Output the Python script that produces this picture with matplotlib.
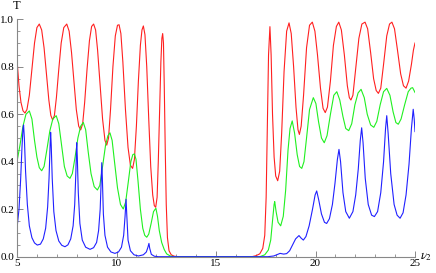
import numpy as np
import matplotlib
matplotlib.use('Agg')
import matplotlib.pyplot as plt
from matplotlib.ticker import MultipleLocator

plt.rcParams['font.family'] = 'Liberation Serif'
plt.rcParams['mathtext.fontset'] = 'stix'

# red curve (x, T)
red_x = [5.00, 5.10, 5.20, 5.30, 5.40, 5.50, 5.62, 5.75, 5.88, 6.00, 6.12, 6.24, 6.36, 6.48, 6.60, 6.70, 6.79,
         6.88, 6.98, 7.10, 7.22, 7.35, 7.50, 7.62, 7.74, 7.86, 7.98, 8.10, 8.20, 8.30, 8.40, 8.52, 8.64, 8.75,
         8.85, 8.95, 9.05, 9.17, 9.30, 9.42, 9.51, 9.60, 9.70, 9.82, 9.94, 10.05, 10.13, 10.22, 10.32, 10.45,
         10.58, 10.70, 10.81, 10.90, 11.00, 11.10, 11.20, 11.28, 11.35, 11.43, 11.52, 11.62, 11.72, 11.82,
         11.90, 11.97, 12.04, 12.10, 12.17, 12.23, 12.28, 12.32, 12.36, 12.40, 12.45, 12.50, 12.56, 12.64,
         12.75, 12.90, 13.10, 16.80, 17.00, 17.20, 17.35, 17.45, 17.52, 17.58, 17.64, 17.71, 17.77, 17.84,
         17.92, 18.00, 18.10, 18.20, 18.30, 18.42, 18.55, 18.67, 18.78, 18.90, 19.02, 19.12, 19.19, 19.28,
         19.40, 19.55, 19.70, 19.84, 19.97, 20.10, 20.25, 20.38, 20.49, 20.60, 20.75, 20.90, 21.05, 21.17,
         21.30, 21.45, 21.60, 21.70, 21.78, 21.88, 22.02, 22.18, 22.33, 22.49, 22.62, 22.77, 22.92, 23.05,
         23.16, 23.28, 23.42, 23.58, 23.72, 23.84, 23.97, 24.12, 24.28, 24.42, 24.55, 24.68, 24.82, 24.92, 25.00]
red_y = [0.83, 0.72, 0.65, 0.615, 0.605, 0.62, 0.68, 0.79, 0.90, 0.965, 0.98, 0.955, 0.88, 0.77, 0.66, 0.595, 0.576,
         0.595, 0.67, 0.79, 0.90, 0.965, 0.98, 0.95, 0.86, 0.74, 0.62, 0.55, 0.534, 0.56, 0.65, 0.79, 0.91, 0.97,
         0.98, 0.955, 0.87, 0.73, 0.58, 0.49, 0.47, 0.50, 0.62, 0.80, 0.93, 0.975, 0.977, 0.94, 0.82, 0.62,
         0.46, 0.385, 0.372, 0.41, 0.55, 0.74, 0.89, 0.955, 0.972, 0.935, 0.80, 0.58, 0.38, 0.26,
         0.215, 0.208, 0.25, 0.40, 0.62, 0.82, 0.92, 0.94, 0.90, 0.72, 0.45, 0.22, 0.08, 0.025,
         0.008, 0.002, 0.0, 0.0, 0.004, 0.012, 0.035, 0.09, 0.25, 0.55, 0.85, 0.969, 0.85, 0.60,
         0.42, 0.34, 0.32, 0.36, 0.52, 0.78, 0.95, 0.985, 0.94, 0.80, 0.63, 0.535, 0.515, 0.55,
         0.68, 0.88, 0.975, 0.988, 0.95, 0.85, 0.71, 0.625, 0.607, 0.63, 0.74, 0.89, 0.97, 0.988,
         0.955, 0.85, 0.72, 0.67, 0.66, 0.68, 0.79, 0.92, 0.98, 0.988, 0.96, 0.86, 0.75, 0.70,
         0.688, 0.71, 0.81, 0.93, 0.98, 0.988, 0.96, 0.87, 0.77, 0.72, 0.71, 0.74, 0.81, 0.87, 0.90]

# green curve
green_x = [5.00, 5.15, 5.30, 5.45, 5.62, 5.75, 5.88, 6.00, 6.12, 6.24, 6.36, 6.50, 6.65, 6.80, 6.97, 7.10, 7.24,
           7.38, 7.52, 7.66, 7.78, 7.92, 8.06, 8.20, 8.33, 8.45, 8.58, 8.72, 8.88, 9.04, 9.16, 9.30, 9.45, 9.57,
           9.67, 9.78, 9.90, 10.05, 10.20, 10.34, 10.46, 10.60, 10.72, 10.82, 10.90, 10.98, 11.08, 11.20, 11.32,
           11.42, 11.52, 11.62, 11.74, 11.86, 11.98, 12.06, 12.15, 12.27, 12.40, 12.52, 12.70, 12.90, 17.20,
           17.45, 17.63, 17.75, 17.85, 17.92, 17.95, 18.02, 18.12, 18.25, 18.38, 18.50, 18.62, 18.72, 18.83,
           18.95, 19.08, 19.20, 19.31, 19.42, 19.55, 19.70, 19.89, 20.02, 20.15, 20.30, 20.44, 20.58, 20.75,
           20.92, 21.07, 21.22, 21.38, 21.52, 21.67, 21.82, 21.98, 22.14, 22.29, 22.45, 22.60, 22.77, 22.93,
           23.08, 23.25, 23.42, 23.58, 23.74, 23.90, 24.04, 24.16, 24.30, 24.48, 24.66, 24.80, 24.88, 25.00]
green_y = [0.40, 0.47, 0.55, 0.60, 0.614, 0.58, 0.49, 0.42, 0.375, 0.362, 0.38, 0.45, 0.53, 0.58, 0.594, 0.56, 0.47,
           0.38, 0.34, 0.33, 0.35, 0.42, 0.50, 0.55, 0.566, 0.535, 0.44, 0.35, 0.295, 0.281, 0.30, 0.38, 0.47, 0.51,
           0.522, 0.49, 0.40, 0.29, 0.22, 0.201, 0.23, 0.32, 0.40, 0.43, 0.433, 0.41, 0.32, 0.20, 0.12,
           0.09, 0.082, 0.095, 0.14, 0.19, 0.204, 0.17, 0.11, 0.06, 0.03, 0.012, 0.003, 0.0, 0.0,
           0.008, 0.028, 0.07, 0.16, 0.22, 0.232, 0.19, 0.145, 0.13, 0.17, 0.28, 0.45, 0.54, 0.572,
           0.52, 0.43, 0.38, 0.372, 0.40, 0.50, 0.62, 0.67, 0.645, 0.57, 0.50, 0.48, 0.51, 0.60,
           0.68, 0.695, 0.66, 0.59, 0.54, 0.531, 0.56, 0.64, 0.69, 0.705, 0.67, 0.60, 0.555, 0.545,
           0.57, 0.64, 0.695, 0.709, 0.68, 0.61, 0.565, 0.558, 0.58, 0.64, 0.695, 0.71, 0.712, 0.692]

# blue curve
blue_x = [5.00, 5.10, 5.18, 5.25, 5.30, 5.33, 5.37, 5.43, 5.52, 5.62, 5.75, 5.88, 6.02, 6.18, 6.32, 6.44, 6.54,
          6.61, 6.66, 6.69, 6.72, 6.77, 6.85, 6.96, 7.10, 7.25, 7.41, 7.56, 7.70, 7.82, 7.90, 7.96, 8.00, 8.03,
          8.08, 8.16, 8.28, 8.45, 8.67, 8.85, 9.00, 9.10, 9.18, 9.23, 9.26, 9.29, 9.34, 9.42, 9.55, 9.72, 9.92,
          10.10, 10.25, 10.36, 10.43, 10.48, 10.52, 10.58, 10.70, 10.88, 11.10, 11.35, 11.50, 11.58, 11.63,
          11.67, 11.75, 11.90, 12.10, 17.60, 17.90, 18.05, 18.22, 18.40, 18.55, 18.70, 18.85, 19.00, 19.17,
          19.28, 19.39, 19.52, 19.68, 19.85, 19.98, 20.06, 20.16, 20.30, 20.45, 20.56, 20.70, 20.85, 20.98,
          21.10, 21.18, 21.26, 21.38, 21.52, 21.70, 21.88, 22.02, 22.15, 22.25, 22.32, 22.39, 22.50, 22.65,
          22.82, 22.96, 23.12, 23.28, 23.42, 23.52, 23.58, 23.65, 23.78, 23.95, 24.10, 24.25, 24.40, 24.55,
          24.70, 24.82, 24.91, 24.96, 25.00]
blue_y = [0.12, 0.20, 0.32, 0.46, 0.54, 0.555, 0.50, 0.36, 0.22, 0.13, 0.08, 0.058, 0.049, 0.053, 0.075, 0.12, 0.21,
          0.33, 0.46, 0.524, 0.47, 0.33, 0.19, 0.11, 0.066, 0.048, 0.042, 0.05, 0.075, 0.13, 0.22, 0.36, 0.48, 0.42,
          0.27, 0.14, 0.07, 0.040, 0.031, 0.038, 0.06, 0.11, 0.20, 0.32, 0.396, 0.33, 0.18, 0.09, 0.04, 0.02, 0.014,
          0.02, 0.04, 0.09, 0.17, 0.242, 0.17, 0.07, 0.025, 0.008, 0.003, 0.008, 0.02, 0.04, 0.056,
          0.035, 0.01, 0.002, 0.0, 0.0, 0.003, 0.008, 0.014, 0.011, 0.013, 0.025, 0.05, 0.075, 0.089,
          0.078, 0.07, 0.085, 0.13, 0.20, 0.26, 0.277, 0.24, 0.18, 0.145, 0.14, 0.16, 0.22, 0.31,
          0.41, 0.452, 0.40, 0.27, 0.19, 0.162, 0.19, 0.26, 0.37, 0.49, 0.543, 0.48, 0.33, 0.22,
          0.175, 0.169, 0.19, 0.27, 0.40, 0.54, 0.594, 0.52, 0.35, 0.22, 0.175, 0.162, 0.185, 0.26,
          0.39, 0.54, 0.621, 0.58, 0.527]

fig = plt.figure(figsize=(4.36, 2.73), dpi=100)
ax = fig.add_axes([17 / 436, 16.3 / 273, 398 / 436, 237.4 / 273])

ax.plot(red_x, red_y, color='#ff2020', lw=0.8)
ax.plot(green_x, green_y, color='#20f020', lw=0.8)
ax.plot(blue_x, blue_y, color='#2020ff', lw=0.8)

ax.set_xlim(5, 25)
ax.set_ylim(0, 1.0)
for s in ['top', 'right']:
    ax.spines[s].set_visible(False)
for s in ['left', 'bottom']:
    ax.spines[s].set_color('#888888')
    ax.spines[s].set_linewidth(0.8)

ax.xaxis.set_major_locator(MultipleLocator(5))
ax.xaxis.set_minor_locator(MultipleLocator(1))
ax.yaxis.set_major_locator(MultipleLocator(0.2))
ax.yaxis.set_minor_locator(MultipleLocator(0.05))
ax.yaxis.set_major_formatter(plt.FuncFormatter(lambda v, p: '%.1f' % v))
ax.tick_params(which='both', direction='in', color='#888888', labelsize=8, pad=2)
ax.tick_params(which='major', length=4, width=0.7)
ax.tick_params(which='minor', length=2, width=0.6)

ax.text(0.0, 1.03, 'T', transform=ax.transAxes, fontsize=9, ha='center', va='bottom')
ax.text(1.012, 0.0, r'$\nu_2$', transform=ax.transAxes, fontsize=9, ha='left', va='center')
ax.set_clip_on(False)

fig.savefig('out.png', dpi=100)
